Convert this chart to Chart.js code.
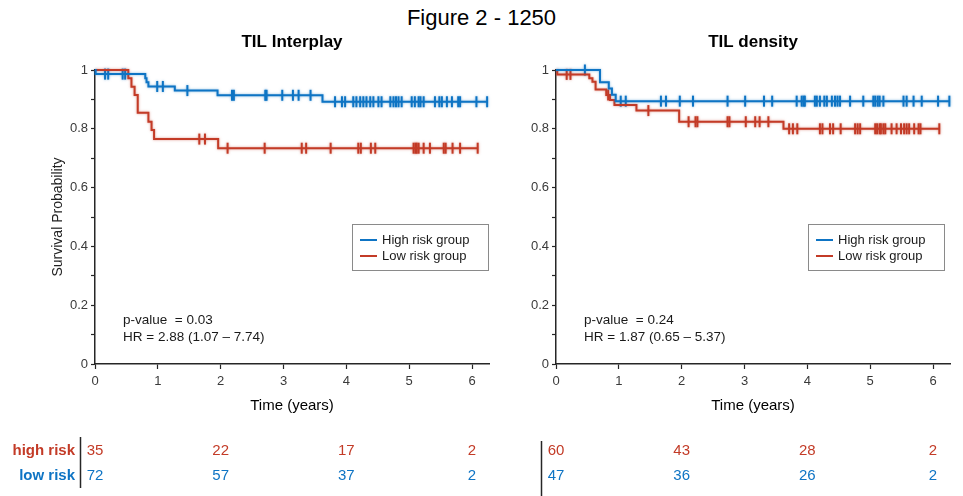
<!DOCTYPE html>
<html>
<head>
<meta charset="utf-8">
<script src="https://cdn.jsdelivr.net/npm/chart.js@4.4.0/dist/chart.umd.min.js"></script>
<style>
  html, body { margin: 0; padding: 0; background: #fff; }
  body { width: 963px; height: 496px; position: relative; overflow: hidden;
         font-family: "Liberation Sans", Arial, sans-serif; }
  #figTitle { position: absolute; left: 0; top: 5px; width: 963px; text-align: center;
              font-size: 22px; color: #000; }
  #leftWrap  { position: absolute; left: 0;     top: 0; width: 500px; height: 496px; }
  #rightWrap { position: absolute; left: 500px; top: 0; width: 463px; height: 496px; }
</style>
</head>
<body>
<div id="figTitle">Figure 2 - 1250</div>
<div id="leftWrap"><canvas id="interplayChart"></canvas></div>
<div id="rightWrap"><canvas id="densityChart"></canvas></div>

<script>
// ---- Kaplan-Meier step data (time in years, survival probability) ----

// TIL Interplay
const interplayHighTimes = [0, 0.01, 0.80, 0.82, 0.85, 1.27, 1.95, 3.62];
const interplayHighSurv  = [1, 0.986, 0.972, 0.958, 0.944, 0.930, 0.914, 0.892];
const interplayHighCensor = [0.16, 0.21, 0.44, 0.48, 0.99, 1.08, 1.47, 2.18, 2.21, 2.71, 2.73,
  2.98, 3.15, 3.24, 3.43, 3.82, 3.93, 3.98, 4.11, 4.16, 4.22, 4.27, 4.32, 4.38, 4.43, 4.51,
  4.56, 4.70, 4.75, 4.79, 4.83, 4.88, 5.04, 5.09, 5.15, 5.18, 5.23, 5.41, 5.48, 5.52, 5.60,
  5.68, 5.78, 5.81, 6.07, 6.24];

const interplayLowTimes = [0, 0.53, 0.58, 0.63, 0.68, 0.85, 0.90, 0.94, 1.96];
const interplayLowSurv  = [1, 0.972, 0.943, 0.915, 0.855, 0.824, 0.796, 0.765, 0.734];
const interplayLowCensor = [1.66, 1.75, 2.11, 2.70, 3.29, 3.36, 3.75, 4.19, 4.23, 4.39, 4.46,
  5.07, 5.10, 5.12, 5.15, 5.23, 5.33, 5.55, 5.58, 5.69, 5.81, 6.09];

// TIL density
const densityHighTimes = [0, 0.70, 0.84, 0.89, 0.95];
const densityHighSurv  = [1, 0.958, 0.937, 0.916, 0.894];
const densityHighCensor = [0.46, 1.03, 1.11, 1.67, 1.75, 1.97, 2.18, 2.73, 3.01, 3.31, 3.44,
  3.83, 3.91, 3.94, 3.96, 4.12, 4.15, 4.20, 4.27, 4.31, 4.39, 4.44, 4.48, 4.52, 4.68, 4.89,
  5.05, 5.08, 5.12, 5.15, 5.21, 5.53, 5.58, 5.69, 5.82, 6.08, 6.26];

const densityLowTimes = [0, 0.02, 0.53, 0.58, 0.63, 0.80, 0.86, 0.93, 1.28, 1.96, 3.62];
const densityLowSurv  = [1, 0.985, 0.972, 0.960, 0.934, 0.915, 0.898, 0.881, 0.862, 0.824, 0.800];
const densityLowCensor = [0.17, 0.23, 0.83, 1.47, 2.11, 2.22, 2.25, 2.73, 2.76, 3.02, 3.17,
  3.24, 3.38, 3.71, 3.77, 3.84, 4.20, 4.24, 4.36, 4.41, 4.53, 4.76, 4.80, 4.84, 5.08, 5.11,
  5.15, 5.17, 5.21, 5.24, 5.34, 5.42, 5.49, 5.54, 5.58, 5.62, 5.70, 5.77, 5.80, 6.10];

// Numbers at risk
const riskTimes = [0, 2, 4, 6];
const interplayHighRisk = [35, 22, 17, 2];
const interplayLowRisk  = [72, 57, 37, 2];
const densityHighRisk   = [60, 43, 28, 2];
const densityLowRisk    = [47, 36, 26, 2];

// Labels
const seriesLabels = ['High risk group', 'Low risk group'];
const riskRowLabels = ['high risk', 'low risk'];
const interplayStats = ['p-value  = 0.03', 'HR = 2.88 (1.07 \u2013 7.74)'];
const densityStats   = ['p-value  = 0.24', 'HR = 1.87 (0.65 \u2013 5.37)'];

// ---- helpers ----
const BLUE = '#0e74c4';
const RED  = '#c33b27';
const BLUE_HALO = 'rgba(14,116,196,0.55)';
const RED_HALO  = 'rgba(195,59,39,0.55)';
const AXIS = '#262626';
const FONT = '"Liberation Sans", Arial, sans-serif';

function survAt(times, surv, t) {
  let s = surv[0];
  for (let i = 0; i < times.length; i++) if (times[i] <= t) s = surv[i];
  return s;
}
function curvePoints(times, surv, censor) {
  const pts = times.map((t, i) => ({ x: t, y: surv[i] }));
  const end = Math.max(times[times.length - 1], ...censor);
  pts.push({ x: end, y: surv[surv.length - 1] });
  return pts;
}
function censorPoints(times, surv, censor) {
  return censor.map(t => ({ x: t, y: survAt(times, surv, t) }));
}

// Soft edge around the survival curves and censor ticks
const haloPlugin = {
  id: 'halo',
  beforeDatasetDraw(chart, args) {
    const ds = chart.data.datasets[args.index];
    chart.ctx.save();
    chart.ctx.shadowColor = ds.haloColor || 'rgba(0,0,0,0)';
    chart.ctx.shadowBlur = 2.5;
  },
  afterDatasetDraw(chart) {
    chart.ctx.restore();
  }
};

// Panel decorations: heading, statistics, boxed legend, numbers-at-risk table
const panelPlugin = {
  id: 'panel',
  afterDraw(chart, args, o) {
    const { ctx, chartArea: a, scales: { x } } = chart;
    const cols = [BLUE, RED];
    ctx.save();
    ctx.textBaseline = 'middle';

    // heading
    ctx.fillStyle = '#000';
    ctx.font = 'bold 17px ' + FONT;
    ctx.textAlign = 'center';
    ctx.fillText(o.heading, (a.left + a.right) / 2, 42);

    // statistics
    ctx.font = '13.5px ' + FONT;
    ctx.textAlign = 'left';
    ctx.fillStyle = '#1a1a1a';
    o.stats.forEach((s, i) => ctx.fillText(s, a.left + 28, 320 + i * 17));

    // legend box
    const bx = o.legendLeft, by = 224, bw = o.legendWidth, bh = 46;
    ctx.fillStyle = '#fff';
    ctx.fillRect(bx, by, bw, bh);
    ctx.strokeStyle = '#8a8a8a';
    ctx.lineWidth = 1;
    ctx.strokeRect(bx + 0.5, by + 0.5, bw, bh);
    seriesLabels.forEach((lab, i) => {
      const ly = by + 16 + i * 16;
      ctx.strokeStyle = cols[i];
      ctx.lineWidth = 2;
      ctx.beginPath();
      ctx.moveTo(bx + 8, ly); ctx.lineTo(bx + 25, ly);
      ctx.stroke();
      ctx.fillStyle = '#1a1a1a';
      ctx.font = '13px ' + FONT;
      ctx.fillText(lab, bx + 30, ly);
    });

    // numbers at risk
    const rows = [o.highRisk, o.lowRisk];
    ctx.font = '15px ' + FONT;
    ctx.textAlign = 'center';
    rows.forEach((vals, r) => {
      ctx.fillStyle = cols[1 - r];
      vals.forEach((v, k) => {
        ctx.fillText(String(v), x.getPixelForValue(riskTimes[k]), 451 + r * 25);
      });
    });
    if (o.rowLabels) {
      ctx.font = 'bold 15px ' + FONT;
      ctx.textAlign = 'right';
      riskRowLabels.forEach((lab, r) => {
        ctx.fillStyle = cols[1 - r];
        ctx.fillText(lab, o.rowLabelX, 451 + r * 25);
      });
    }
    ctx.strokeStyle = AXIS;
    ctx.lineWidth = 1.5;
    ctx.beginPath();
    ctx.moveTo(o.sepX, o.sepTop); ctx.lineTo(o.sepX, o.sepBottom);
    ctx.stroke();
    ctx.restore();
  }
};

function buildChart(canvasId, d, layout) {
  const censorStyle = { type: 'scatter', showLine: false, pointStyle: 'line', rotation: 90,
                        pointRadius: 5.5, pointBorderWidth: 2, clip: false };
  return new Chart(document.getElementById(canvasId), {
    type: 'line',
    data: {
      datasets: [
        { label: seriesLabels[0], data: curvePoints(d.hT, d.hS, d.hC), borderColor: BLUE,
          haloColor: BLUE_HALO, borderWidth: 2, stepped: true, pointRadius: 0, fill: false, clip: false },
        { label: seriesLabels[1], data: curvePoints(d.lT, d.lS, d.lC), borderColor: RED,
          haloColor: RED_HALO, borderWidth: 2, stepped: true, pointRadius: 0, fill: false, clip: false },
        Object.assign({ label: 'censored high', data: censorPoints(d.hT, d.hS, d.hC),
          borderColor: BLUE, backgroundColor: BLUE, haloColor: BLUE_HALO }, censorStyle),
        Object.assign({ label: 'censored low', data: censorPoints(d.lT, d.lS, d.lC),
          borderColor: RED, backgroundColor: RED, haloColor: RED_HALO }, censorStyle)
      ]
    },
    options: {
      responsive: true,
      maintainAspectRatio: false,
      animation: false,
      events: [],
      layout: { padding: { top: 70, right: layout.padRight, bottom: 72, left: 0 } },
      plugins: {
        legend: { display: false },
        tooltip: { enabled: false },
        panel: layout.panel
      },
      scales: {
        x: {
          type: 'linear', min: 0, max: 6.27,
          afterFit: s => { s.height = 60; },
          ticks: { stepSize: 1, includeBounds: false, color: '#3a3a3a', padding: 5,
                   maxRotation: 0, font: { size: 13, family: FONT } },
          grid: { drawOnChartArea: false, tickLength: 5, color: AXIS, tickWidth: 1.2 },
          border: { color: AXIS, width: 1.5 },
          title: { display: true, text: 'Time (years)', color: '#000',
                   font: { size: 15, family: FONT }, padding: { top: 4, bottom: 9 } }
        },
        y: {
          min: 0, max: 1,
          afterFit: s => { s.width = layout.yWidth; },
          ticks: { stepSize: 0.1, color: '#3a3a3a', padding: 3,
                   font: { size: 13, family: FONT },
                   callback: v => (Math.round(v * 10) % 2 === 0 ? String(+v.toFixed(1)) : '') },
          grid: { drawOnChartArea: false, tickLength: 4, color: AXIS, tickWidth: 1.2 },
          border: { color: AXIS, width: 1.5 },
          title: { display: layout.yTitle, text: 'Survival Probability', color: '#222',
                   font: { size: 14, family: FONT }, padding: { top: 50, bottom: 0 } }
        }
      }
    },
    plugins: [haloPlugin, panelPlugin]
  });
}

buildChart('interplayChart',
  { hT: interplayHighTimes, hS: interplayHighSurv, hC: interplayHighCensor,
    lT: interplayLowTimes,  lS: interplayLowSurv,  lC: interplayLowCensor },
  { padRight: 11, yWidth: 95, yTitle: true,
    panel: { heading: 'TIL Interplay', stats: interplayStats,
             legendLeft: 352, legendWidth: 136,
             highRisk: interplayHighRisk, lowRisk: interplayLowRisk,
             rowLabels: true, rowLabelX: 75,
             sepX: 80.5, sepTop: 437, sepBottom: 488 } });

buildChart('densityChart',
  { hT: densityHighTimes, hS: densityHighSurv, hC: densityHighCensor,
    lT: densityLowTimes,  lS: densityLowSurv,  lC: densityLowCensor },
  { padRight: 13, yWidth: 56, yTitle: false,
    panel: { heading: 'TIL density', stats: densityStats,
             legendLeft: 308, legendWidth: 136,
             highRisk: densityHighRisk, lowRisk: densityLowRisk,
             rowLabels: false,
             sepX: 41.5, sepTop: 441, sepBottom: 496 } });
</script>
</body>
</html>
